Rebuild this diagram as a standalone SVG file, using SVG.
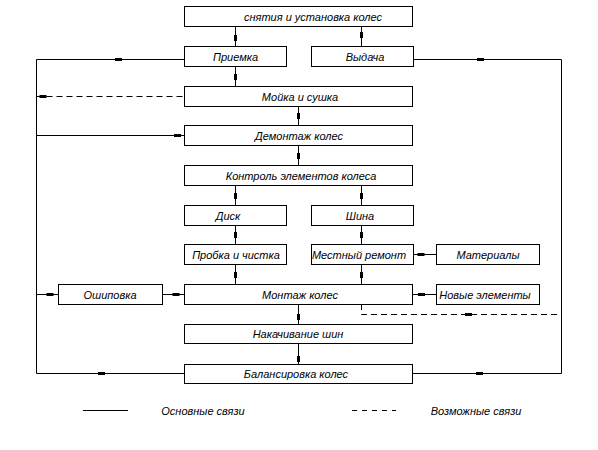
<svg xmlns="http://www.w3.org/2000/svg" width="598" height="450" viewBox="0 0 598 450">
<style>
.box{fill:#fff;stroke:#000;stroke-width:1}
.ln{fill:none;stroke:#000;stroke-width:1}
.dash{fill:none;stroke:#000;stroke-width:1;stroke-dasharray:6 4}
.t{font-family:"Liberation Sans",Arial,sans-serif;font-style:italic;font-size:11px;fill:#000;text-anchor:middle}
.mk{fill:#000}
</style>
<defs>
<rect id="mv" x="-1.5" y="-3" width="3" height="6" class="mk"/>
<rect id="mh" x="-3.5" y="-1.5" width="7" height="3" class="mk"/>
</defs>
<rect width="598" height="450" fill="#fff"/>
<g id="connectors">
<line class="ln" x1="235.5" y1="26" x2="235.5" y2="46"/>
<line class="ln" x1="361.5" y1="26" x2="361.5" y2="46"/>
<line class="ln" x1="235.5" y1="66" x2="235.5" y2="86"/>
<line class="ln" x1="298.5" y1="106" x2="298.5" y2="125"/>
<line class="ln" x1="298.5" y1="145" x2="298.5" y2="165"/>
<line class="ln" x1="235.5" y1="185" x2="235.5" y2="205"/>
<line class="ln" x1="361.5" y1="185" x2="361.5" y2="205"/>
<line class="ln" x1="235.5" y1="225" x2="235.5" y2="244"/>
<line class="ln" x1="361.5" y1="225" x2="361.5" y2="244"/>
<line class="ln" x1="235.5" y1="264" x2="235.5" y2="284"/>
<line class="ln" x1="361.5" y1="264" x2="361.5" y2="284"/>
<line class="ln" x1="413" y1="254.5" x2="436" y2="254.5"/>
<line class="ln" x1="412" y1="294.5" x2="436" y2="294.5"/>
<line class="ln" x1="162" y1="294.5" x2="184" y2="294.5"/>
<line class="ln" x1="36" y1="294.5" x2="58" y2="294.5"/>
<line class="ln" x1="298.5" y1="304" x2="298.5" y2="324"/>
<line class="ln" x1="298.5" y1="344" x2="298.5" y2="364"/>
<polyline class="ln" points="184,59.5 36.5,59.5 36.5,373.5 184,373.5"/>
<line class="ln" x1="36.5" y1="135.5" x2="184" y2="135.5"/>
<line class="dash" x1="36.5" y1="96.5" x2="184" y2="96.5"/>
<polyline class="ln" points="413,59.5 561.5,59.5 561.5,373.5 412,373.5"/>
<polyline class="dash" points="361.5,304 361.5,314.5 561.5,314.5"/>
<use href="#mv" x="235.5" y="38"/>
<use href="#mv" x="361.5" y="35"/>
<use href="#mv" x="235.5" y="77"/>
<use href="#mv" x="298.5" y="116"/>
<use href="#mv" x="298.5" y="156"/>
<use href="#mv" x="235.5" y="196"/>
<use href="#mv" x="361.5" y="196"/>
<use href="#mv" x="235.5" y="235"/>
<use href="#mv" x="361.5" y="235"/>
<use href="#mv" x="235.5" y="275"/>
<use href="#mv" x="361.5" y="275"/>
<use href="#mv" x="298.5" y="317"/>
<use href="#mv" x="298.5" y="359"/>
<use href="#mh" x="118.5" y="59.5"/>
<use href="#mh" x="43" y="96.5"/>
<use href="#mh" x="177.5" y="135.5"/>
<use href="#mh" x="480.5" y="59.5"/>
<use href="#mh" x="421" y="254.5"/>
<use href="#mh" x="421.5" y="294.5"/>
<use href="#mh" x="176" y="294.5"/>
<use href="#mh" x="50" y="294.5"/>
<use href="#mh" x="468.5" y="314.5"/>
<use href="#mh" x="101.5" y="373.5"/>
<use href="#mh" x="479.5" y="373.5"/>
</g>
<g id="n-top"><rect class="box" x="184.5" y="6.5" width="228" height="20"/><text class="t" x="313" y="20.5">снятия и установка колес</text></g>
<g id="n-priemka"><rect class="box" x="184.5" y="46.5" width="102" height="20"/><text class="t" x="235.5" y="60.5">Приемка</text></g>
<g id="n-vydacha"><rect class="box" x="311.5" y="46.5" width="102" height="20"/><text class="t" x="365" y="60.5">Выдача</text></g>
<g id="n-moyka"><rect class="box" x="184.5" y="86.5" width="228" height="20"/><text class="t" x="300" y="100.5">Мойка и сушка</text></g>
<g id="n-demontazh"><rect class="box" x="184.5" y="125.5" width="228" height="20"/><text class="t" x="299" y="139.5">Демонтаж колес</text></g>
<g id="n-kontrol"><rect class="box" x="184.5" y="165.5" width="228" height="20"/><text class="t" x="301" y="179.5">Контроль элементов колеса</text></g>
<g id="n-disk"><rect class="box" x="184.5" y="205.5" width="102" height="20"/><text class="t" x="228" y="219.5">Диск</text></g>
<g id="n-shina"><rect class="box" x="311.5" y="205.5" width="102" height="20"/><text class="t" x="360" y="219.5">Шина</text></g>
<g id="n-probka"><rect class="box" x="184.5" y="244.5" width="102" height="20"/><text class="t" x="236" y="258.5">Пробка и чистка</text></g>
<g id="n-remont"><rect class="box" x="311.5" y="244.5" width="102" height="20"/><text class="t" x="359" y="258.5">Местный ремонт</text></g>
<g id="n-materialy"><rect class="box" x="436.5" y="244.5" width="103" height="20"/><text class="t" x="488" y="258.5">Материалы</text></g>
<g id="n-oshipovka"><rect class="box" x="58.5" y="284.5" width="104" height="20"/><text class="t" x="110" y="298.5">Ошиповка</text></g>
<g id="n-montazh"><rect class="box" x="184.5" y="284.5" width="228" height="20"/><text class="t" x="300" y="298.5">Монтаж колес</text></g>
<g id="n-novye"><rect class="box" x="436.5" y="284.5" width="103" height="20"/><text class="t" x="485" y="298.5">Новые элементы</text></g>
<g id="n-nakachivanie"><rect class="box" x="184.5" y="324.5" width="228" height="19"/><text class="t" x="298" y="338">Накачивание шин</text></g>
<g id="n-balansirovka"><rect class="box" x="184.5" y="364.5" width="228" height="19"/><text class="t" x="296" y="378">Балансировка колес</text></g>
<g id="legend">
<line class="ln" x1="83" y1="410.5" x2="128" y2="410.5"/>
<text class="t" x="203" y="415">Основные связи</text>
<line class="dash" x1="352" y1="410.5" x2="396" y2="410.5" style="stroke-dasharray:5 5"/>
<text class="t" x="476" y="415">Возможные связи</text>
</g>
</svg>
